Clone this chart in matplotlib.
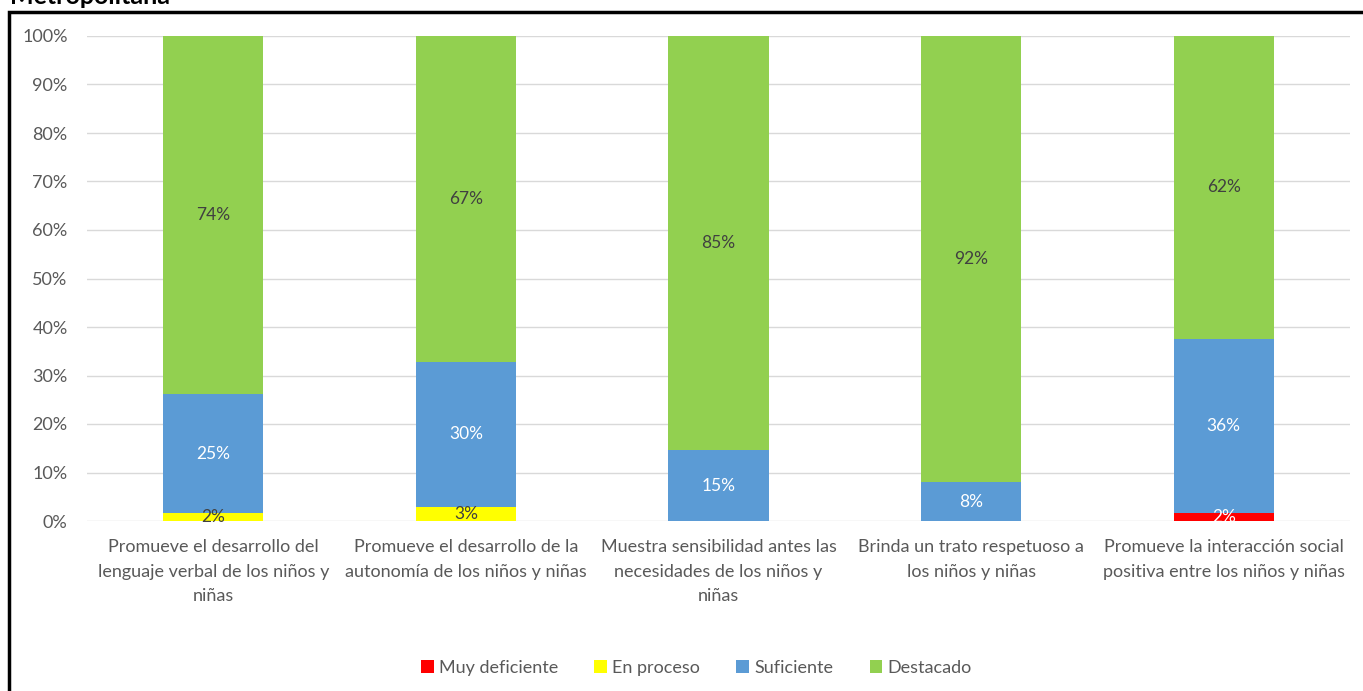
import matplotlib.pyplot as plt
import numpy as np
from matplotlib.patches import Rectangle

plt.rcParams['font.family'] = ['Lato', 'DejaVu Sans']

categorias = [
    "Promueve el desarrollo del\nlenguaje verbal de los niños y\nniñas",
    "Promueve el desarrollo de la\nautonomía de los niños y niñas",
    "Muestra sensibilidad antes las\nnecesidades de los niños y\nniñas",
    "Brinda un trato respetuoso a\nlos niños y niñas",
    "Promueve la interacción social\npositiva entre los niños y niñas",
]
series = ["Muy deficiente", "En proceso", "Suficiente", "Destacado"]
muy_deficiente = [0, 0, 0, 0, 1.6]
en_proceso = [1.6, 2.9, 0, 0, 0]
suficiente = [24.6, 29.9, 14.6, 8.0, 36.0]
destacado = [73.8, 67.2, 85.4, 92.0, 62.4]
colores = ["#FF0000", "#FFFF00", "#5B9BD5", "#92D050"]
color_texto = ["white", "#404040", "white", "#404040"]

fig = plt.figure(figsize=(13.63, 6.91), dpi=100)
ax = fig.add_axes([87 / 1363, 1 - 521 / 691, 1263 / 1363, 485 / 691])

x = np.arange(len(categorias))
base = np.zeros(len(categorias))
for nombre, vals, c, tc in zip(series, [muy_deficiente, en_proceso, suficiente, destacado], colores, color_texto):
    vals = np.array(vals, dtype=float)
    ax.bar(x, vals, 0.396, bottom=base, color=c, label=nombre, zorder=2)
    for xi, b, v in zip(x, base, vals):
        if v > 0:
            ax.text(xi, b + v / 2, f"{v:.0f}%", ha='center', va='center',
                    fontsize=12.5, color=tc, zorder=3)
    base += vals

ax.set_xlim(-0.5, len(categorias) - 0.5)
ax.set_ylim(0, 100)
ax.set_yticks(np.arange(0, 101, 10))
ax.set_yticklabels([f"{t}%" for t in range(0, 101, 10)])
ax.set_xticks(x)
ax.set_xticklabels(categorias, linespacing=1.65)
ax.tick_params(axis='both', length=0, colors='#595959', labelsize=13)
ax.tick_params(axis='x', pad=13)
ax.tick_params(axis='y', pad=14)
ax.yaxis.grid(True, color='#D9D9D9', linewidth=1, zorder=0)
ax.set_axisbelow(True)
for s in ax.spines.values():
    s.set_visible(False)

leg = fig.legend(loc='center', bbox_to_anchor=(0.511, 1 - 668 / 691), ncol=4,
                 frameon=False, fontsize=13, handlelength=0.7, handleheight=0.7,
                 handletextpad=0.3, columnspacing=2.0)
for t in leg.get_texts():
    t.set_color('#595959')

# marco y titulo recortado
fig.patches.append(Rectangle((9 / 1363, -0.1), 1.2, 1 - 12 / 691 + 0.1,
                             transform=fig.transFigure, fill=False,
                             edgecolor='black', linewidth=2.5))
fig.text(10 / 1363, 1 - 4 / 691, "Metropolitana", fontweight='bold',
         fontsize=18, va='baseline', ha='left')

fig.savefig("out.png", dpi=100)
